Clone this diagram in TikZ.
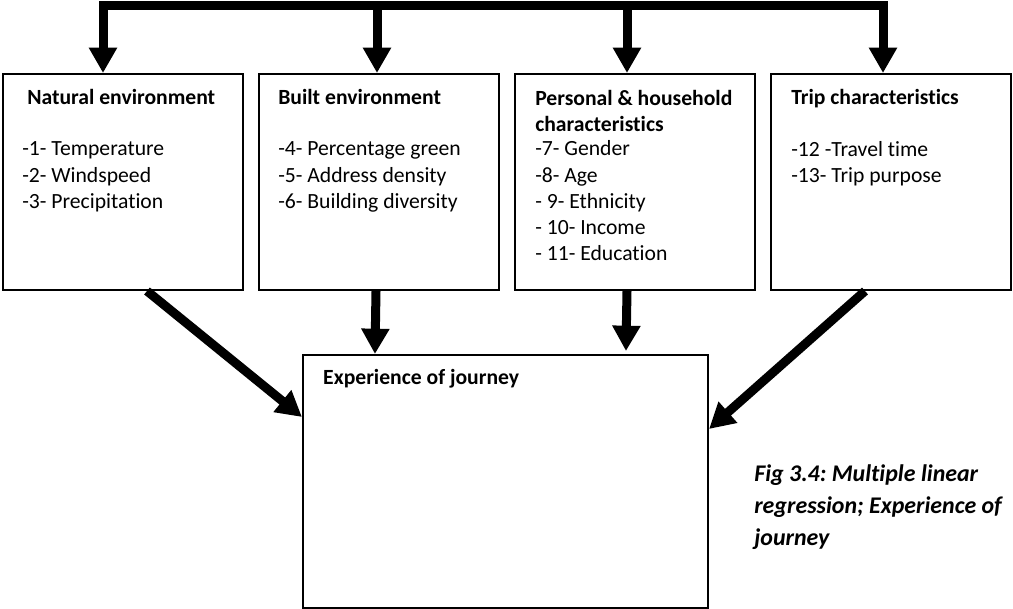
\documentclass[tikz,border=0pt]{standalone}
\usepackage{fontspec}
\setmainfont{Carlito}[Ligatures=NoCommon]
\frenchspacing
\usetikzlibrary{arrows.meta,calc}

\begin{document}
\begin{tikzpicture}[x=0.025cm, y=-0.025cm, line join=miter, font=\fontsize{15.4pt}{18.6pt}\selectfont]
			\tikzset{box/.style={draw, line width=1.4pt, minimum width=6cm, minimum height=5.4cm, inner sep=0pt},
				fat/.style={line width=6.4pt, -{Triangle[width=19pt,length=18pt]}},
				title/.style={font=\fontsize{15.4pt}{18.6pt}\selectfont\bfseries, anchor=base west, inner sep=0pt, align=left},
				items/.style={anchor=base west, inner sep=0pt, align=left}}
			\useasboundingbox (0,0) rectangle (1013,609);
			% the four groups of variables
			\node[box] (nat) at (123,182) {};
			\node[box] (blt) at (379,182) {};
			\node[box] (psn) at (635,182) {};
			\node[box] (trp) at (891,182) {};
			\node[draw, line width=1.4pt, minimum width=10.125cm, minimum height=6.325cm, inner sep=0pt] (exp) at (505.5,481.5) {};
			% texts, placed by the baseline of their last line
			\node[title] (natT) at ($(nat.north west)+(25,32)$) {Natural environment};
			\node[items] (natL) at ($(nat.north west)+(20,135.3)$) {-1- Temperature\\-2- Windspeed\\-3- Precipitation};
			\node[title] (bltT) at ($(blt.north west)+(20,32)$) {Built environment};
			\node[items] (bltL) at ($(blt.north west)+(20,135.3)$) {-4- Percentage green\\-5- Address density\\-6- Building diversity};
			\node[title] (psnT) at ($(psn.north west)+(21,58.2)$) {Personal \& household\\characteristics};
			\node[items] (psnL) at ($(psn.north west)+(21,187.6)$) {-7- Gender\\-8- Age\\- 9- Ethnicity\\- 10- Income\\- 11- Education};
			\node[title] (trpT) at ($(trp.north west)+(21,32)$) {Trip characteristics};
			\node[items] (trpL) at ($(trp.north west)+(21,109.2)$) {-12 -Travel time\\-13- Trip purpose};
			\node[title] (expT) at ($(exp.north west)+(21,31)$) {Experience of journey};
			\node[title, font=\fontsize{17pt}{23pt}\selectfont\bfseries\itshape] (cap) at ($(exp.north east)+(45,192)$) {Fig 3.4: Multiple linear\\regression; Experience of\\journey};
			% top bar
			\coordinate (t1) at (103,6);
			\coordinate (t2) at (377,6);
			\coordinate (t3) at (627,6);
			\coordinate (t4) at (883,6);
			\draw[fat, {Triangle[width=19pt,length=18pt]}-{Triangle[width=19pt,length=18pt]}] (nat.north -| t1) |- (t4) -- (trp.north -| t4);
			\draw[fat] (t2) -- (blt.north -| t2);
			\draw[fat] (t3) -- (psn.north -| t3);
			% into the outcome
			\draw[fat] ($(nat.south)+(24,0)$) -- ($(exp.north west)+(0,63)$);
			\draw[fat] ($(blt.south)+(-3,0)$) -- ($(exp.north west)+(73,0)$);
			\draw[fat] ($(psn.south)+(-8,0)$) -- ($(exp.north west)+(324,-3)$);
			\draw[fat] ($(trp.south)+(-26,0)$) -- ($(exp.north east)+(0,75)$);
		\end{tikzpicture}
\end{document}
